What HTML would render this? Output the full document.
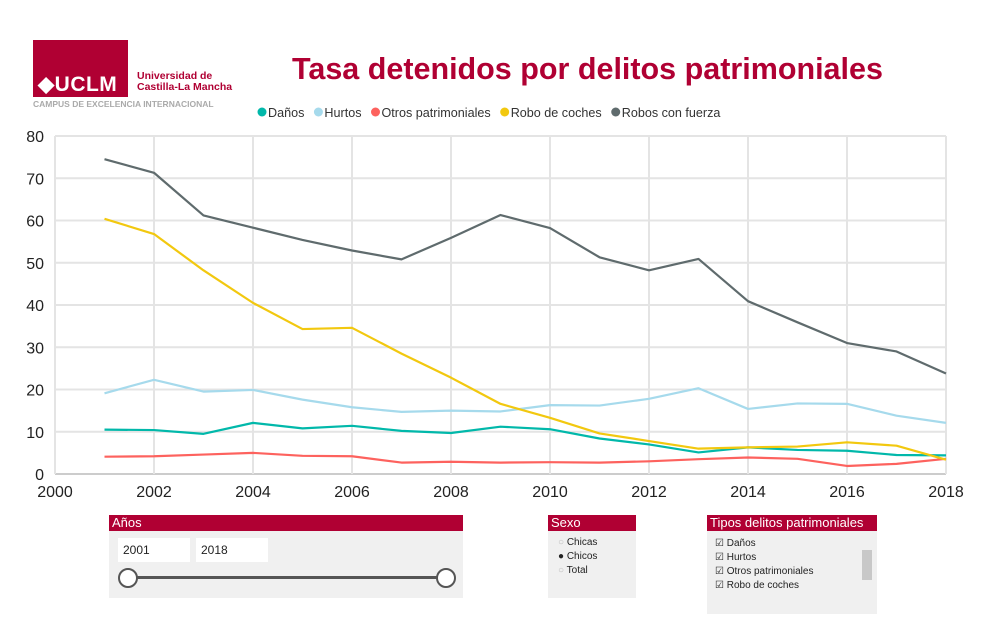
<!DOCTYPE html>
<html><head><meta charset="utf-8"><style>
body{margin:0;width:989px;height:626px;background:#fff;font-family:"Segoe UI","Liberation Sans",sans-serif;overflow:hidden;position:relative}
.abs{position:absolute}
.hdr{background:#b00033;color:#fff;font-size:13px;line-height:16px;padding-left:3px}
.small{font-size:10px;color:#222}
</style></head><body>
<div class="abs" style="left:33px;top:40px;width:200px;height:70px">
 <div class="abs" style="left:0;top:0;width:95px;height:57px;background:#b00033"></div>
 <div class="abs" style="left:5px;top:32px;color:#fff;font-weight:bold;font-size:21px;font-family:'Liberation Sans',sans-serif;letter-spacing:0.5px">◆UCLM</div>
 <div class="abs" style="left:104px;top:31px;color:#b00033;font-weight:bold;font-size:10.5px;line-height:11px;font-family:'Liberation Sans',sans-serif">Universidad de<br>Castilla-La Mancha</div>
 <div class="abs" style="left:0;top:59px;color:#aaa;font-weight:bold;font-size:8.5px;font-family:'Liberation Sans',sans-serif;white-space:nowrap">CAMPUS DE EXCELENCIA INTERNACIONAL</div>
</div>
<div class="abs" style="left:292px;top:52px;color:#b00033;font-weight:bold;font-size:30.5px;font-family:'Liberation Sans',sans-serif;white-space:nowrap">Tasa detenidos por delitos patrimoniales</div>
<svg class="abs" style="left:0;top:0" width="989" height="500" id="chart"></svg>

<div class="abs" style="left:109px;top:515px;width:354px;height:83px;background:#f0f0f0">
 <div class="hdr">Años</div>
 <div class="abs small" style="left:9px;top:23px;width:72px;height:24px;background:#fff;line-height:24px;padding-left:5px;box-sizing:border-box;font-size:12px">2001</div>
 <div class="abs small" style="left:87px;top:23px;width:72px;height:24px;background:#fff;line-height:24px;padding-left:5px;box-sizing:border-box;font-size:12px">2018</div>
 <div class="abs" style="left:18px;top:61px;width:320px;height:3px;background:#555"></div>
 <div class="abs" style="left:9px;top:53px;width:16px;height:16px;border:2px solid #555;border-radius:50%;background:#fff"></div>
 <div class="abs" style="left:327px;top:53px;width:16px;height:16px;border:2px solid #555;border-radius:50%;background:#fff"></div>
</div>
<div class="abs" style="left:548px;top:515px;width:88px;height:83px;background:#f0f0f0">
 <div class="hdr" style="font-size:13px">Sexo</div>
 <div class="abs small" style="left:10px;top:21px;line-height:14px"><span style="color:#bbb">○</span> Chicas<br><span>●</span> Chicos<br><span style="color:#bbb">○</span> Total</div>
</div>
<div class="abs" style="left:707px;top:515px;width:170px;height:99px;background:#f0f0f0">
 <div class="hdr" style="font-size:13px">Tipos delitos patrimoniales</div>
 <div class="abs small" style="left:8px;top:22px;line-height:14px">☑ Daños<br>☑ Hurtos<br>☑ Otros patrimoniales<br>☑ Robo de coches</div>
 <div class="abs" style="left:155px;top:35px;width:10px;height:30px;background:#c8c8c8"></div>
</div>
<script>
const years=[2001,2002,2003,2004,2005,2006,2007,2008,2009,2010,2011,2012,2013,2014,2015,2016,2017,2018];
const danos=[10.5,10.4,9.5,12.1,10.8,11.4,10.2,9.7,11.2,10.6,8.4,7.0,5.1,6.3,5.7,5.5,4.5,4.4];
const hurtos=[19.1,22.3,19.5,19.9,17.6,15.8,14.7,15.0,14.8,16.3,16.2,17.8,20.3,15.4,16.7,16.6,13.8,12.1];
const otros=[4.1,4.2,4.6,5.0,4.3,4.2,2.7,2.9,2.7,2.8,2.7,3.0,3.5,3.9,3.6,1.9,2.4,3.6];
const coches=[60.4,56.8,48.2,40.5,34.3,34.6,28.5,22.8,16.6,13.3,9.6,7.8,6.0,6.3,6.5,7.5,6.7,3.4];
const fuerza=[74.5,71.3,61.2,58.3,55.4,52.9,50.8,55.9,61.3,58.2,51.3,48.2,50.9,40.9,35.9,31.0,29.0,23.8];
const xTicks=[2000,2002,2004,2006,2008,2010,2012,2014,2016,2018];
const yTicks=[0,10,20,30,40,50,60,70,80];
const seriesNames=["Daños","Hurtos","Otros patrimoniales","Robo de coches","Robos con fuerza"];
const seriesData=[danos,hurtos,otros,coches,fuerza];
const colors=["#01B8AA","#A6DAEC","#FD625E","#F2C80F","#5F6B6D"];
const X=v=>55+(v-2000)*(946-55)/18;
const Y=v=>474-v*(474-136)/80;
const svg=document.getElementById('chart');
const NS="http://www.w3.org/2000/svg";
function mk(t,a){const e=document.createElementNS(NS,t);for(const k in a)e.setAttribute(k,a[k]);svg.appendChild(e);return e;}
yTicks.forEach(v=>{
 const l=mk('line',{x1:55,x2:946,y1:Y(v),y2:Y(v),stroke:v===0?'#999':'#e4e4e4','stroke-width':v===0?1:2});
 
 
 const t=mk('text',{x:44,y:Y(v)+6,'text-anchor':'end','font-size':16,fill:'#222','font-family':'Segoe UI,Liberation Sans,sans-serif'});
 t.textContent=v;
 
 
});
xTicks.forEach(v=>{
 const l=mk('line',{x1:X(v),x2:X(v),y1:136,y2:474,stroke:'#e4e4e4','stroke-width':2});
 
 
 const t=mk('text',{x:X(v),y:497,'text-anchor':'middle','font-size':16,fill:'#222','font-family':'Segoe UI,Liberation Sans,sans-serif'});
 t.textContent=v;
 
 
});
seriesData.forEach((d,i)=>{
 const p=mk('polyline',{points:d.map((v,j)=>X(years[j])+','+Y(v)).join(' '),fill:'none',stroke:colors[i],'stroke-width':2.2,'stroke-linejoin':'round'});
 
 
});
let lx=257;
seriesNames.forEach((n,i)=>{
 const c=mk('circle',{cx:lx+5,cy:112,r:4.5,fill:colors[i]});
 
 
 const t=mk('text',{x:lx+11,y:117,'font-size':12.6,fill:'#333','font-family':'Segoe UI,Liberation Sans,sans-serif'});
 t.textContent=n;
 
 
 lx+=15+t.getComputedTextLength()+5;
});
</script>
</body></html>
